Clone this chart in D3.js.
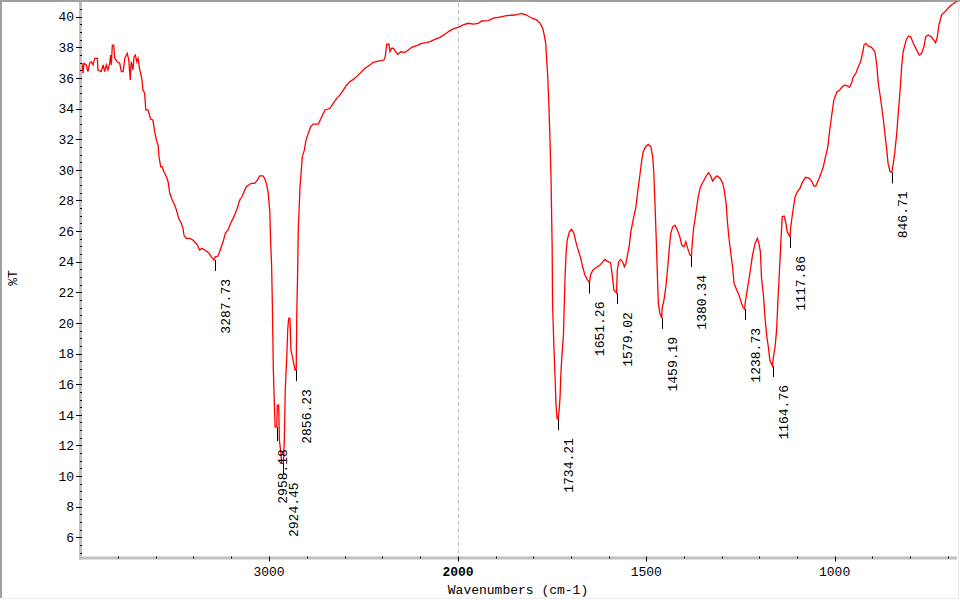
<!DOCTYPE html>
<html>
<head>
<meta charset="utf-8">
<script src="https://cdn.jsdelivr.net/npm/d3@7"></script>
<style>
  body { margin: 0; background: #fff; }
  text { font-family: "Liberation Mono", "DejaVu Sans Mono", monospace; font-size: 13px; fill: #000; }
</style>
</head>
<body>
<svg id="chart" width="960" height="600"></svg>
<script>
// spectrum (cm-1, %T)
var wavenumber = [
  3997, 3989, 3984, 3979, 3967, 3958, 3949, 3940, 3931, 3922, 3908, 3905, 3887, 3878, 3869, 3861, 3852, 3843, 3838, 3834,
  3829, 3822, 3816, 3803, 3790, 3781, 3772, 3763, 3755, 3750, 3742, 3734, 3729, 3720, 3714, 3707, 3700, 3693, 3684, 3679,
  3672, 3667, 3658, 3652, 3640, 3626, 3614, 3605, 3596, 3587, 3582, 3573, 3565, 3556, 3543, 3534, 3525, 3512, 3499, 3487,
  3478, 3464, 3455, 3450, 3438, 3420, 3402, 3393, 3379, 3367, 3354, 3340, 3326, 3314, 3305, 3291, 3284, 3270, 3261, 3252,
  3243, 3231, 3217, 3203, 3190, 3178, 3168, 3155, 3143, 3132, 3120, 3107, 3094, 3076, 3062, 3049, 3032, 3023, 3014, 3005,
  2996, 2991, 2986, 2983, 2977, 2968, 2959, 2956, 2949, 2945, 2937, 2933, 2924, 2919, 2914, 2906, 2901, 2896, 2889, 2884,
  2871, 2862, 2856, 2853, 2848, 2845, 2836, 2827, 2824, 2813, 2804, 2792, 2779, 2766, 2739, 2721, 2704, 2677, 2660, 2642,
  2624, 2607, 2589, 2571, 2545, 2519, 2492, 2466, 2448, 2416, 2392, 2385, 2377, 2365, 2360, 2351, 2342, 2330, 2319, 2303,
  2280, 2263, 2245, 2218, 2192, 2166, 2148, 2122, 2095, 2063, 2042, 2020, 1999,
  1986, 1973, 1959, 1946, 1937, 1920, 1906, 1893, 1871, 1849, 1831, 1818, 1804, 1791, 1782, 1775, 1772, 1767, 1765, 1762,
  1759, 1756, 1753, 1750, 1749, 1745, 1742, 1740, 1737, 1734, 1731, 1729, 1727, 1724, 1720, 1718, 1716, 1713, 1710, 1704,
  1698, 1692, 1687, 1681, 1674, 1669, 1663, 1656, 1651, 1648, 1642, 1634, 1623, 1614, 1610, 1604, 1595, 1591, 1586, 1579,
  1577, 1573, 1568, 1563, 1558, 1554, 1550, 1545, 1541, 1535, 1528, 1524, 1517, 1512, 1508, 1502, 1495, 1488, 1483, 1480,
  1477, 1474, 1471, 1468, 1464, 1459, 1458, 1453, 1448, 1443, 1439, 1435, 1430, 1424, 1418, 1411, 1406, 1400, 1395, 1390,
  1384, 1380, 1379, 1375, 1371, 1366, 1362, 1356, 1349, 1342, 1335, 1329, 1324, 1318, 1312, 1304, 1297, 1293, 1288, 1285,
  1281, 1276, 1271, 1267, 1260, 1254, 1247, 1243, 1239, 1237, 1232, 1225, 1218, 1211, 1205, 1201, 1197, 1194, 1189, 1185,
  1180, 1176, 1172, 1165, 1163, 1158, 1154, 1150, 1145, 1142, 1139, 1134, 1130, 1126, 1118, 1117, 1111, 1105, 1099, 1092,
  1085, 1077, 1067, 1061, 1055, 1050, 1043, 1036, 1030, 1024, 1018, 1014, 1010, 1002, 994, 986, 981, 973, 966, 961,
  955, 951, 943, 937, 931, 925, 922, 917, 911, 902, 893, 888, 884, 880, 875, 871, 866, 862, 858, 853,
  848, 844, 840, 835, 831, 826, 822, 818, 810, 804, 798, 791, 782, 775, 769, 763, 758, 752, 743, 737,
  732, 728, 723, 716, 707, 699, 690, 681, 675
];
var transmittance = [
  36.39, 36.96, 36.30, 36.96, 36.85, 36.41, 36.96, 37.06, 36.85, 37.28, 37.28, 36.52, 36.41, 36.85, 36.41, 36.85, 36.52, 36.96, 37.50, 36.85,
  38.15, 38.15, 37.28, 37.06, 36.96, 36.41, 36.41, 37.28, 37.50, 37.61, 37.17, 35.87, 37.06, 36.52, 37.39, 37.50, 37.06, 37.28, 36.52, 36.30,
  35.87, 35.21, 35.00, 33.91, 33.91, 33.30, 33.25, 32.49, 31.95, 31.62, 30.86, 30.20, 30.20, 29.88, 29.55, 29.22, 28.47, 28.03, 27.70, 27.26,
  26.83, 26.51, 26.18, 25.74, 25.53, 25.53, 25.41, 25.30, 25.09, 24.76, 24.87, 24.76, 24.65, 24.50, 24.32, 24.11, 24.32, 24.37, 24.65, 24.98,
  25.30, 25.85, 26.07, 26.51, 26.83, 27.16, 27.49, 28.03, 28.24, 28.57, 28.90, 29.01, 29.12, 29.12, 29.33, 29.61, 29.61, 29.44, 29.12, 28.57,
  27.37, 25.20, 23.67, 21.71, 16.92, 13.22, 13.22, 14.64, 14.64, 12.35, 11.48, 10.83, 10.83, 12.35, 15.62, 17.79, 19.54, 20.30, 20.30, 18.23,
  17.47, 16.92, 16.92, 20.63, 23.67, 26.07, 28.90, 30.31, 30.86, 31.29, 31.95, 32.38, 32.82, 32.99, 32.99, 33.47, 33.91, 34.02, 34.34, 34.67,
  34.89, 35.21, 35.54, 35.76, 35.98, 36.30, 36.63, 36.85, 37.02, 37.11, 37.17, 37.39, 38.20, 38.20, 37.71, 37.94, 37.94, 37.71, 37.54, 37.71,
  37.67, 37.82, 38.00, 38.11, 38.26, 38.30, 38.37, 38.52, 38.65, 38.92, 39.09, 39.24, 39.31,
  39.46, 39.57, 39.52, 39.57, 39.72, 39.74, 39.90, 39.96, 40.07, 40.11, 40.22, 40.11, 39.90, 39.79, 39.57, 39.24, 38.92, 38.26, 37.39, 36.19,
  34.45, 32.16, 29.44, 24.98, 21.28, 18.23, 16.27, 14.75, 13.77, 13.72, 14.42, 15.18, 16.60, 17.90, 19.21, 21.06, 22.80, 24.55, 25.41, 25.96,
  26.11, 25.85, 25.30, 24.76, 24.22, 23.67, 23.13, 22.80, 22.64, 23.13, 23.45, 23.61, 23.78, 24.04, 24.15, 24.04, 23.93, 23.24, 22.15, 21.95,
  23.45, 24.00, 24.15, 24.00, 23.67, 23.89, 24.43, 25.09, 25.96, 26.72, 27.49, 28.34, 29.66, 30.64, 31.18, 31.51, 31.66, 31.51, 30.86, 29.77,
  27.81, 25.74, 23.45, 21.28, 20.63, 20.33, 20.95, 21.50, 22.37, 23.67, 24.87, 25.85, 26.28, 26.39, 26.11, 25.63, 25.09, 24.98, 25.30, 24.87,
  24.43, 24.37, 24.87, 26.07, 26.72, 27.59, 28.24, 28.90, 29.22, 29.55, 29.81, 29.60, 29.27, 29.48, 29.60, 29.44, 29.12, 28.68, 27.81, 26.72,
  25.63, 24.65, 23.67, 22.59, 22.15, 21.82, 21.28, 21.02, 20.91, 21.39, 22.15, 23.24, 24.43, 25.20, 25.53, 25.20, 24.63, 22.91, 21.82, 20.41,
  19.10, 18.45, 17.58, 17.19, 17.69, 18.45, 19.54, 21.71, 24.11, 25.63, 26.94, 26.98, 26.61, 25.96, 25.61, 26.18, 27.26, 28.24, 28.57, 28.79,
  29.22, 29.51, 29.44, 29.27, 28.94, 28.94, 29.33, 29.77, 30.20, 30.86, 31.51, 32.38, 33.14, 34.56, 35.08, 35.21, 35.39, 35.54, 35.47, 35.39,
  35.65, 36.04, 36.34, 36.73, 37.06, 37.71, 38.15, 38.26, 38.09, 38.00, 37.71, 36.85, 35.65, 35.00, 34.12, 33.36, 32.27, 31.40, 30.42, 29.88,
  29.83, 30.42, 31.18, 32.38, 33.69, 35.21, 36.73, 37.71, 38.48, 38.74, 38.69, 38.26, 37.82, 37.50, 37.61, 38.04, 38.69, 38.80, 38.69, 38.48,
  38.30, 38.59, 39.46, 40.11, 40.33, 40.55, 40.76, 40.91, 40.99
];

// picked peaks
var peakLabels = ["3287.73", "2958.18", "2924.45", "2856.23", "1734.21", "1651.26", "1579.02",
                  "1459.19", "1380.34", "1238.73", "1164.76", "1117.86", "846.71"];
var peakDepth = [24.11, 13.2, 10.83, 16.92, 13.72, 22.64, 21.95, 20.33, 24.37, 20.91, 17.19, 25.61, 29.83];

// axis ticks
var xLabelTicks = [3000, 2000, 1500, 1000];
var xMinorTicks = [3800, 3600, 3400, 3200, 3000, 2800, 2600, 2400, 2200, 2000,
                   1900, 1800, 1700, 1600, 1500, 1400, 1300, 1200, 1100, 1000, 900, 800, 700];
var yLabelTicks = d3.range(6, 41, 2);
var yMinorTicks = d3.range(5, 41, 0.5);

var svg = d3.select("#chart");

// x axis is split: 4000-2000 compressed to half scale
var x = d3.scaleLinear().domain([4000, 2000, 675]).range([80, 458, 957]);
var y = d3.scaleLinear().domain([4.67, 40.96]).range([557.7, 2]);

// window frame
svg.append("rect").attr("x", 0).attr("y", 0).attr("width", 960).attr("height", 2).attr("fill", "#a0a0a0");
svg.append("rect").attr("x", 0).attr("y", 0).attr("width", 2).attr("height", 598).attr("fill", "#a0a0a0");
svg.append("line").attr("x1", 958.5).attr("x2", 958.5).attr("y1", 2).attr("y2", 599)
    .attr("stroke", "#e6e6e6");
svg.append("line").attr("x1", 2).attr("x2", 959).attr("y1", 598.5).attr("y2", 598.5)
    .attr("stroke", "#eeeeee");

// break marker at 2000
svg.append("line")
    .attr("x1", x(2000) + 0.5).attr("x2", x(2000) + 0.5)
    .attr("y1", 3).attr("y2", 556)
    .attr("stroke", "#c0c0c0")
    .attr("stroke-dasharray", "4,3");

// axis bands
svg.append("rect").attr("x", 79).attr("y", 2).attr("width", 3).attr("height", 557.5).attr("fill", "#c0c0c0");
svg.append("rect").attr("x", 79).attr("y", 556.5).attr("width", 878).attr("height", 3).attr("fill", "#c0c0c0");

// y ticks
svg.append("g").selectAll("line")
    .data(yMinorTicks)
    .enter().append("line")
    .attr("x1", function(d) { return d % 2 === 0 ? 76 : 80; })
    .attr("x2", 82)
    .attr("y1", function(d) { return Math.round(y(d)) + 0.5; })
    .attr("y2", function(d) { return Math.round(y(d)) + 0.5; })
    .attr("stroke", "#000");

svg.append("g").selectAll("text")
    .data(yLabelTicks)
    .enter().append("text")
    .attr("x", 74)
    .attr("y", function(d) { return y(d); })
    .attr("dy", "0.36em")
    .attr("text-anchor", "end")
    .text(function(d) { return d; });

// x ticks
svg.append("g").selectAll("line")
    .data(xMinorTicks)
    .enter().append("line")
    .attr("x1", function(d) { return Math.round(x(d)) + 0.5; })
    .attr("x2", function(d) { return Math.round(x(d)) + 0.5; })
    .attr("y1", 556.5)
    .attr("y2", function(d) { return xLabelTicks.indexOf(d) >= 0 ? 561.5 : 558.5; })
    .attr("stroke", "#000");

svg.append("g").selectAll("text")
    .data(xLabelTicks)
    .enter().append("text")
    .attr("x", function(d) { return x(d); })
    .attr("y", 576)
    .attr("text-anchor", "middle")
    .attr("font-weight", function(d) { return d === 2000 ? "bold" : null; })
    .text(function(d) { return d; });

svg.append("text")
    .attr("x", 518).attr("y", 594)
    .attr("text-anchor", "middle")
    .text("Wavenumbers (cm-1)");

svg.append("text")
    .attr("transform", "translate(17,278) rotate(-90)")
    .attr("text-anchor", "middle")
    .text("%T");

// spectrum
svg.append("clipPath").attr("id", "plot-clip")
    .append("rect").attr("x", 82).attr("y", 0).attr("width", 877).attr("height", 556);

var spectrum = wavenumber.map(function(d, i) { return [d, transmittance[i]]; });

svg.append("path")
    .datum(spectrum)
    .attr("clip-path", "url(#plot-clip)")
    .attr("fill", "none")
    .attr("stroke", "#ff0000")
    .attr("stroke-width", 1.3)
    .attr("stroke-linejoin", "miter")
    .attr("d", d3.line()
        .x(function(d) { return x(d[0]); })
        .y(function(d) { return y(d[1]); }));

// peak markers
var peaks = svg.append("g").selectAll("g")
    .data(peakLabels)
    .enter().append("g");

peaks.append("line")
    .attr("x1", function(d) { return Math.round(x(+d)) + 0.5; })
    .attr("x2", function(d) { return Math.round(x(+d)) + 0.5; })
    .attr("y1", function(d, i) { return y(peakDepth[i]); })
    .attr("y2", function(d, i) { return y(peakDepth[i]) + (d === "2958.18" ? 14 : 11); })
    .attr("stroke", "#000");

peaks.append("text")
    .attr("transform", function(d, i) {
        // 2958.18 sits too close to 2924.45, nudge it left and down
        var crowded = d === "2958.18";
        var dx = crowded ? 10 : 15;
        var dy = crowded ? 22 : 19;
        return "translate(" + (x(+d) + dx) + "," + (y(peakDepth[i]) + dy) + ") rotate(-90)";
    })
    .attr("text-anchor", "end")
    .text(function(d) { return d; });
</script>
</body>
</html>
